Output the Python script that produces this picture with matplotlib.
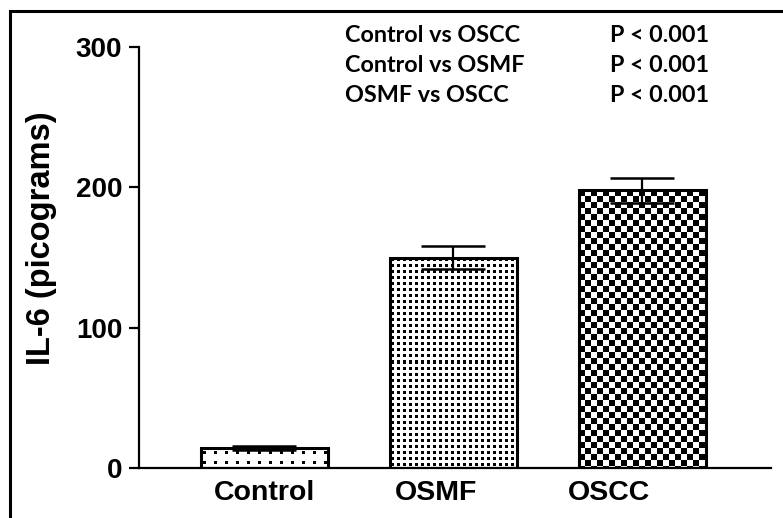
import numpy as np
import matplotlib
matplotlib.use("Agg")
import matplotlib.pyplot as plt
from matplotlib.patches import Rectangle
from matplotlib.transforms import ScaledTranslation

# ---- data ----
categories = ["Control", "OSMF", "OSCC"]
means = [14, 150, 198]
errors = [1.5, 8.2, 9.0]
yticks = [0, 100, 200, 300]
ylabel = "IL-6 (picograms)"
comparisons = ["Control vs OSCC", "Control vs OSMF", "OSMF vs OSCC"]
pvalues = ["P < 0.001", "P < 0.001", "P < 0.001"]
textures = ["sparse_dots", "dense_dots", "checker"]

W, H = 783, 518
fig = plt.figure(figsize=(W / 100, H / 100), dpi=100)
fig.patch.set_facecolor("white")

ax = fig.add_axes([139 / W, 50 / H, 632 / W, 421 / H])
x = np.arange(len(categories))
ax.set_xlim(-0.664, 2.68)
ax.set_ylim(0, 300)

bar_w = 0.67
bars = ax.bar(x, means, width=bar_w, facecolor="none", edgecolor="black",
              linewidth=2.2, zorder=3)


def texture_array(kind, w, h):
    jj, ii = np.meshgrid(np.arange(w), np.arange(h))
    arr = np.ones((h, w))
    if kind == "sparse_dots":
        arr[((ii - 3) % 10 < 3) & ((jj - 2) % 11 < 3)] = 0
    elif kind == "dense_dots":
        arr[((ii - 1) % 6 < 3) & ((jj - 1) % 6 < 3)] = 0
    else:
        arr[((ii // 6 + jj // 6) % 2) == 0] = 0
    return arr


for b, kind in zip(bars, textures):
    x0, y0 = b.get_x(), b.get_y()
    x1, y1 = x0 + b.get_width(), y0 + b.get_height()
    (px0, py0), (px1, py1) = ax.transData.transform([(x0, y0), (x1, y1)])
    w = max(int(round(px1 - px0)), 1)
    h = max(int(round(py1 - py0)), 1)
    arr = texture_array(kind, w, h)
    ax.imshow(arr, extent=(x0, x1, y0, y1), cmap="gray", vmin=0, vmax=1,
              interpolation="nearest", aspect="auto", zorder=2)

ax.set_xlim(-0.664, 2.68)
ax.set_ylim(0, 300)

ax.errorbar(x, means, yerr=errors, fmt="none", ecolor="black",
            elinewidth=1.6, capsize=22.7, capthick=1.8, zorder=4)

for s in ["top", "right"]:
    ax.spines[s].set_visible(False)
for s in ["left", "bottom"]:
    ax.spines[s].set_linewidth(1.6)
    ax.spines[s].set_zorder(5)

font = "Liberation Sans"
ax.set_yticks(yticks)
ax.set_yticklabels([str(t) for t in yticks], fontsize=20, fontweight="bold",
                   family=font)
ax.tick_params(axis="y", direction="out", length=7, width=1.6, pad=5)
ax.set_xticks(x)
ax.set_xticklabels(categories, fontsize=20.5, fontweight="bold", family=font)
ax.tick_params(axis="x", length=0, pad=9)
shifts = [0, -17, -33]
for lab, dx in zip(ax.get_xticklabels(), shifts):
    lab.set_transform(lab.get_transform() + ScaledTranslation(dx / 100, 0, fig.dpi_scale_trans))

fig.text(42 / W, 1 - 238 / H, ylabel, rotation=90, ha="center", va="center",
         fontsize=23.5, fontweight="bold", family=font)

ys = [35, 65, 96]
for cmp_txt, p_txt, yy in zip(comparisons, pvalues, ys):
    fig.text(345 / W, 1 - yy / H, cmp_txt, ha="left", va="center",
             fontsize=16.8, fontweight="bold", family="Lato")
    fig.text(610 / W, 1 - yy / H, p_txt, ha="left", va="center",
             fontsize=16.8, fontweight="bold", family="Lato")

fig.add_artist(Rectangle((10 / W, -0.5), 2, 0.5 + 1 - 11 / H, transform=fig.transFigure,
                         fill=False, edgecolor="black", linewidth=2.2))

fig.savefig("out.png", dpi=100)
